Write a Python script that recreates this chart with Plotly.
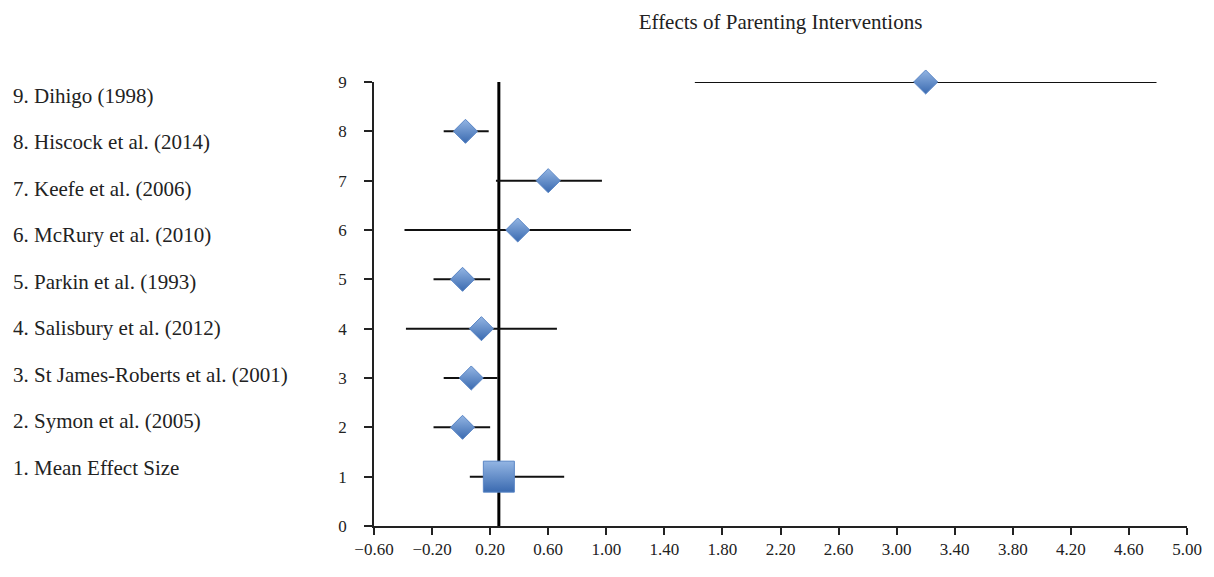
import plotly.graph_objects as go

rows = [1, 2, 3, 4, 5, 6, 7, 8, 9]
studies = [
    "1. Mean Effect Size",
    "2. Symon et al. (2005)",
    "3. St James-Roberts et al. (2001)",
    "4. Salisbury et al. (2012)",
    "5. Parkin et al. (1993)",
    "6. McRury et al. (2010)",
    "7. Keefe et al. (2006)",
    "8. Hiscock et al. (2014)",
    "9. Dihigo (1998)",
]
effects = [0.26, 0.01, 0.07, 0.14, 0.01, 0.39, 0.60, 0.03, 3.20]
ci_low = [0.06, -0.19, -0.12, -0.38, -0.19, -0.39, 0.24, -0.12, 1.61]
ci_high = [0.71, 0.20, 0.25, 0.66, 0.20, 1.17, 0.97, 0.19, 4.79]
mean_effect = 0.26
x_ticks = [round(-0.6 + 0.4 * i, 2) for i in range(15)]
label_rows = [1.18 + (8.72 - 1.18) * i / 8 for i in range(9)]

plus = [h - e for h, e in zip(ci_high, effects)]
minus = [e - l for e, l in zip(effects, ci_low)]

FONT = "Liberation Serif, Times New Roman, serif"
LIGHT = "#93b5e3"
DARK = "#3a6ab0"

fig = go.Figure()

# reference line at mean effect
fig.add_trace(go.Scatter(
    x=[mean_effect, mean_effect], y=[0, 9], mode="lines",
    line=dict(color="black", width=3), hoverinfo="skip", showlegend=False,
    cliponaxis=False))

# studies (diamonds)
fig.add_trace(go.Scatter(
    x=effects[1:], y=rows[1:], mode="markers", cliponaxis=False,
    marker=dict(symbol="diamond", size=18.5, color=LIGHT,
                gradient=dict(type="vertical", color=DARK),
                line=dict(color="#5a86c6", width=1)),
    error_x=dict(type="data", symmetric=False, array=plus[1:], arrayminus=minus[1:],
                 color="#111111", thickness=2, width=0),
    showlegend=False))

# mean effect (square)
fig.add_trace(go.Scatter(
    x=effects[:1], y=rows[:1], mode="markers", cliponaxis=False,
    marker=dict(symbol="square", size=31, color=LIGHT,
                gradient=dict(type="vertical", color=DARK),
                line=dict(color="#5a86c6", width=1)),
    error_x=dict(type="data", symmetric=False, array=plus[:1], arrayminus=minus[:1],
                 color="#111111", thickness=2, width=0),
    showlegend=False))

for name, yv in zip(studies, label_rows):
    fig.add_annotation(x=0, xref="paper", xshift=-363, xanchor="left",
                       y=yv, yref="y", text=name, showarrow=False,
                       font=dict(family=FONT, size=21, color="#222222"))

fig.update_layout(
    width=1214, height=577,
    margin=dict(l=374, r=25, t=82, b=51),
    paper_bgcolor="white", plot_bgcolor="white",
    title=dict(text="Effects of Parenting Interventions", x=0.5, xref="paper",
               y=1 - 22 / 577, yanchor="middle",
               font=dict(family=FONT, size=21, color="#222222")),
    font=dict(family=FONT, size=17, color="#222222"),
    xaxis=dict(range=[-0.6, 5.0], tickvals=x_ticks, tickformat=".2f",
               showgrid=False, zeroline=False, showline=True,
               linecolor="#222222", linewidth=1.5, ticks="outside",
               ticklen=7, tickwidth=1.5, tickcolor="#222222",
               tickfont=dict(family=FONT, size=17)),
    yaxis=dict(range=[0, 9], tickvals=list(range(10)),
               showgrid=False, zeroline=False, showline=True,
               linecolor="#222222", linewidth=1.5, ticks="outside",
               ticklen=8, tickwidth=1.5, tickcolor="#222222",
               ticklabelstandoff=14,
               tickfont=dict(family=FONT, size=17)),
)

fig.write_html("out.html", config={"displayModeBar": False},
               post_script="document.body.style.margin='0';")
